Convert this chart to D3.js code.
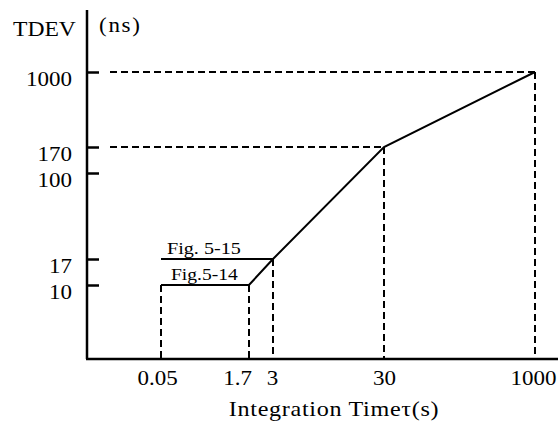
<!DOCTYPE html>
<html><head><meta charset="utf-8">
<script src="https://cdn.jsdelivr.net/npm/d3@7"></script>
<style>
body{margin:0;background:#fff;}
</style></head>
<body><svg id="c" width="558" height="421"></svg>
<script>
// ---- data ----
const xTicks = [0.05, 1.7, 3, 30, 1000];
const yTicks = [10, 17, 100, 170, 1000];
const fig514 = [[0.05,10],[1.7,10],[3,17],[30,170],[1000,1000]];
const fig515 = [[0.05,17],[3,17]];
const hGuides = [[170,30],[1000,1000]];          // [y value, x end]
const vGuides = [[0.05,10],[1.7,10],[3,17],[30,170],[1000,1000]]; // [x, y start]
const labels514 = "Fig.5-14", labels515 = "Fig. 5-15";

// ---- layout ----
const FONT = "Liberation Serif";
const SX = 1.15; // horizontal text stretch
const axX = 87, axY = 359, axTop = 10;
const svg = d3.select("#c");
const x = d3.scaleLog().domain(xTicks).range([161,249,273,384,535]);
const y = d3.scaleLog().domain(yTicks).range([285,259,173,147,72]);

const line = d3.line().x(d=>x(d[0])).y(d=>y(d[1]));
const dash = "7,4";

// guides
svg.append("g").selectAll("line").data(hGuides).join("line")
  .attr("x1",110).attr("x2",d=>x(d[1])).attr("y1",d=>y(d[0])).attr("y2",d=>y(d[0]))
  .attr("stroke","#000").attr("stroke-width",2).attr("stroke-dasharray",dash);
svg.append("g").selectAll("line").data(vGuides).join("line")
  .attr("x1",d=>x(d[0])).attr("x2",d=>x(d[0])).attr("y1",d=>y(d[1])).attr("y2",axY)
  .attr("stroke","#000").attr("stroke-width",2).attr("stroke-dasharray",dash);

// data lines
[fig514, fig515].forEach(s=>{
  svg.append("path").datum(s).attr("d",line).attr("fill","none")
    .attr("stroke","#000").attr("stroke-width",2);
});

// axes lines
svg.append("line").attr("x1",axX).attr("x2",axX).attr("y1",axTop).attr("y2",axY)
  .attr("stroke","#000").attr("stroke-width",2.5);
svg.append("line").attr("x1",axX-1).attr("x2",558).attr("y1",axY).attr("y2",axY)
  .attr("stroke","#000").attr("stroke-width",2.5);

// y axis
const gy = svg.append("g").attr("transform",`translate(${axX},0)`)
  .call(d3.axisLeft(y).tickValues(yTicks).tickSize(-12).tickPadding(15).tickFormat(d3.format("d")));
gy.attr("font-family",FONT).attr("font-size",20);
gy.select(".domain").remove();
gy.selectAll(".tick line").attr("stroke","#000").attr("stroke-width",2.5);
gy.selectAll(".tick text").attr("font-family",FONT).attr("font-size",20).attr("fill","#000")
  .attr("x",-15/SX).attr("dy","0.65em").attr("transform",`scale(${SX},1)`);

// x axis
const xNudge = [-4,-12,-1,0,-2];
const gx = svg.append("g").attr("transform",`translate(0,${axY})`)
  .call(d3.axisBottom(x).tickValues(xTicks).tickSize(0).tickPadding(12).tickFormat(d=>String(d)));
gx.attr("font-family",FONT).attr("font-size",20);
gx.select(".domain").remove();
gx.selectAll(".tick text").attr("font-family",FONT).attr("font-size",20).attr("fill","#000")
  .attr("x",(d,i)=>xNudge[i]/SX).attr("transform",`scale(${SX},1)`);

// texts
function stext(tx,ty,str,size,anchor,ls){
  const g = svg.append("g").attr("transform",`translate(${tx},${ty}) scale(${SX},1)`);
  const t = g.append("text").attr("font-family",FONT).attr("font-size",size)
    .attr("text-anchor",anchor||"start").attr("fill","#000").text(str);
  if(ls) t.attr("letter-spacing",ls);
  return t;
}
stext(13,36,"TDEV",20.5);
stext(99,32,"(ns)",20,"start",1.5);
stext(334,416,"Integration Time\u03c4(s)",21,"middle",0.6);
stext(167,254,labels515,17.5);
stext(171,280,labels514,17);
</script></body></html>
